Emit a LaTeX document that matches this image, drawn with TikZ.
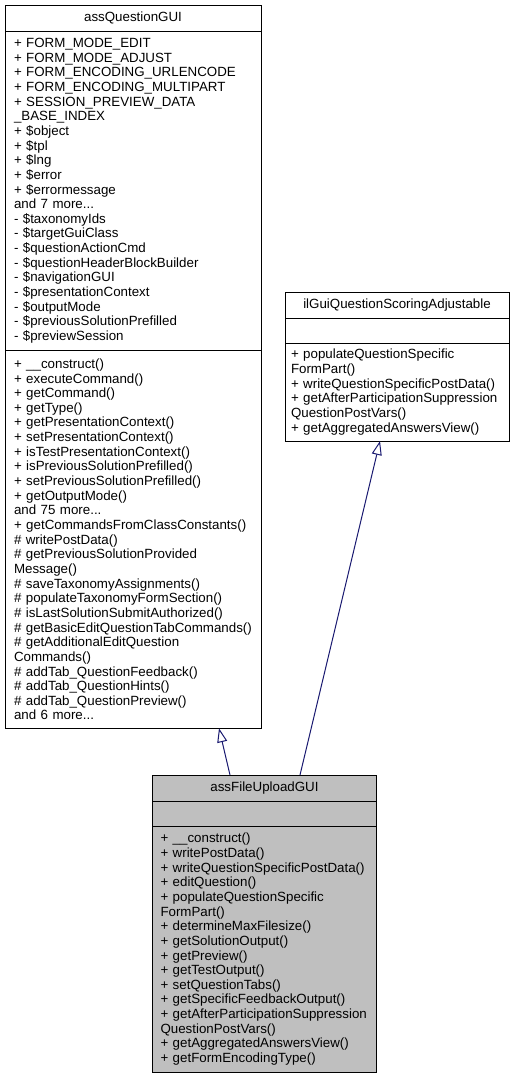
\documentclass[tikz,border=0pt]{standalone}
\usepackage{fontspec}
\setmainfont{Liberation Sans}
\usepackage{xcolor}
\usepackage{tikz}
\usetikzlibrary{positioning,arrows.meta}

\definecolor{edgeblue}{RGB}{25,25,112}
\definecolor{classgray}{RGB}{191,191,191}
\newcommand{\umlfont}{\fontsize{13.33}{14.65}\selectfont}

\begin{document}
\begin{tikzpicture}[x=1pt,y=-1pt,
		box/.style={draw, line width=1pt, anchor=north west, outer sep=0pt, inner ysep=3pt, font=\umlfont},
		classtitle/.style={box, align=center},
		members/.style={box, align=left},
		inherit/.style={draw=edgeblue, line width=1pt, -{Triangle[open, length=14pt, width=10pt]}}]
		\useasboundingbox (0,0) rectangle (515,1079);
		% base class
		\node[classtitle, minimum width=256pt, minimum height=26pt] (qtitle) at (5,5) {assQuestionGUI};
		\node[members, below=0pt of qtitle, text width=238pt, inner xsep=9pt, minimum height=319.5pt] (qattr) {%
			+~FORM\_MODE\_EDIT\\
			+~FORM\_MODE\_ADJUST\\
			+~FORM\_ENCODING\_URLENCODE\\
			+~FORM\_ENCODING\_MULTIPART\\
			+~SESSION\_PREVIEW\_DATA\\
			\_BASE\_INDEX\\
			+~\$object\\
			+~\$tpl\\
			+~\$lng\\
			+~\$error\\
			+~\$errormessage\\
			and 7 more...\\
			-~\$taxonomyIds\\
			-~\$targetGuiClass\\
			-~\$questionActionCmd\\
			-~\$questionHeaderBlockBuilder\\
			-~\$navigationGUI\\
			-~\$presentationContext\\
			-~\$outputMode\\
			-~\$previousSolutionPrefilled\\
			-~\$previewSession};
		\node[members, below=0pt of qattr, text width=238pt, inner xsep=9pt, minimum height=377.8pt] (qmethods) {%
			+~\_\_construct()\\
			+~executeCommand()\\
			+~getCommand()\\
			+~getType()\\
			+~getPresentationContext()\\
			+~setPresentationContext()\\
			+~isTestPresentationContext()\\
			+~isPreviousSolutionPrefilled()\\
			+~setPreviousSolutionPrefilled()\\
			+~getOutputMode()\\
			and 75 more...\\
			+~getCommandsFromClassConstants()\\
			\#~writePostData()\\
			\#~getPreviousSolutionProvided\\
			Message()\\
			\#~saveTaxonomyAssignments()\\
			\#~populateTaxonomyFormSection()\\
			\#~isLastSolutionSubmitAuthorized()\\
			\#~getBasicEditQuestionTabCommands()\\
			\#~getAdditionalEditQuestion\\
			Commands()\\
			\#~addTab\_QuestionFeedback()\\
			\#~addTab\_QuestionHints()\\
			\#~addTab\_QuestionPreview()\\
			and 6 more...};
		% interface
		\node[classtitle, minimum width=224pt, minimum height=25.5pt] (stitle) at (285,292.5) {ilGuiQuestionScoringAdjustable};
		\node[members, below=0pt of stitle, text width=212pt, inner xsep=6pt, minimum height=25pt] (sattr) {};
		\node[members, below=0pt of sattr, text width=212pt, inner xsep=6pt, minimum height=98pt] (smethods) {%
			+~populateQuestionSpecific\\
			FormPart()\\
			+~writeQuestionSpecificPostData()\\
			+~getAfterParticipationSuppression\\
			QuestionPostVars()\\
			+~getAggregatedAnswersView()};
		% derived class
		\node[classtitle, fill=classgray, minimum width=224pt, minimum height=26.5pt] (utitle) at (152.5,775) {assFileUploadGUI};
		\node[members, fill=classgray, below=0pt of utitle, text width=208pt, inner xsep=8pt, minimum height=25pt] (uattr) {};
		\node[members, fill=classgray, below=0pt of uattr, text width=208pt, inner xsep=8pt, minimum height=245.5pt] (umethods) {%
			+~\_\_construct()\\
			+~writePostData()\\
			+~writeQuestionSpecificPostData()\\
			+~editQuestion()\\
			+~populateQuestionSpecific\\
			FormPart()\\
			+~determineMaxFilesize()\\
			+~getSolutionOutput()\\
			+~getPreview()\\
			+~getTestOutput()\\
			+~setQuestionTabs()\\
			+~getSpecificFeedbackOutput()\\
			+~getAfterParticipationSuppression\\
			QuestionPostVars()\\
			+~getAggregatedAnswersView()\\
			+~getFormEncodingType()};
		% generalisations
		\draw[inherit] ([xshift=-34.5pt]utitle.north) -- ([xshift=86pt]qmethods.south);
		\draw[inherit] ([xshift=35.5pt]utitle.north) -- ([xshift=-17pt]smethods.south);
	\end{tikzpicture}
\end{document}
